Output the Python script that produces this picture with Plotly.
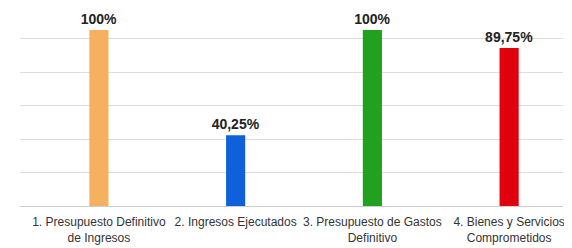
import plotly.graph_objects as go

categories = [
    "1. Presupuesto Definitivo<br>de Ingresos",
    "2. Ingresos Ejecutados",
    "3. Presupuesto de Gastos<br>Definitivo",
    "4. Bienes y Servicios<br>Comprometidos",
]
values = [100, 40.25, 100, 89.75]
value_labels = ["100%", "40,25%", "100%", "89,75%"]
colors = ["#F5B060", "#1060DC", "#22A020", "#E0000E"]

fig = go.Figure(
    go.Bar(
        x=list(range(len(categories))),
        y=values,
        text=value_labels,
        textposition="outside",
        constraintext="none",
        textangle=0,
        textfont=dict(family="Liberation Sans", size=14, color="#222222", weight="bold"),
        marker=dict(color=colors, line=dict(width=0)),
        width=0.14,
        cliponaxis=False,
    )
)

fig.update_layout(
    width=564,
    height=240,
    margin=dict(l=12, r=9, t=12, b=42),
    paper_bgcolor="white",
    plot_bgcolor="white",
    showlegend=False,
    font=dict(family="Liberation Sans", color="#333333"),
)
fig.update_xaxes(
    automargin=False,
    range=[-0.577, 3.394],
    tickmode="array",
    tickvals=list(range(len(categories))),
    ticktext=categories,
    tickfont=dict(family="Liberation Sans", size=12, color="#333333"),
    ticklabelstandoff=7,
    showgrid=False,
    zeroline=False,
    showline=False,
    ticks="",
)
fig.update_yaxes(
    automargin=False,
    range=[0, 105.7],
    dtick=19,
    showgrid=True,
    gridcolor="#DDDDDD",
    gridwidth=1,
    showticklabels=False,
    zeroline=True,
    zerolinecolor="#CCCCCC",
    zerolinewidth=1,
)

fig.write_html("out.html")
